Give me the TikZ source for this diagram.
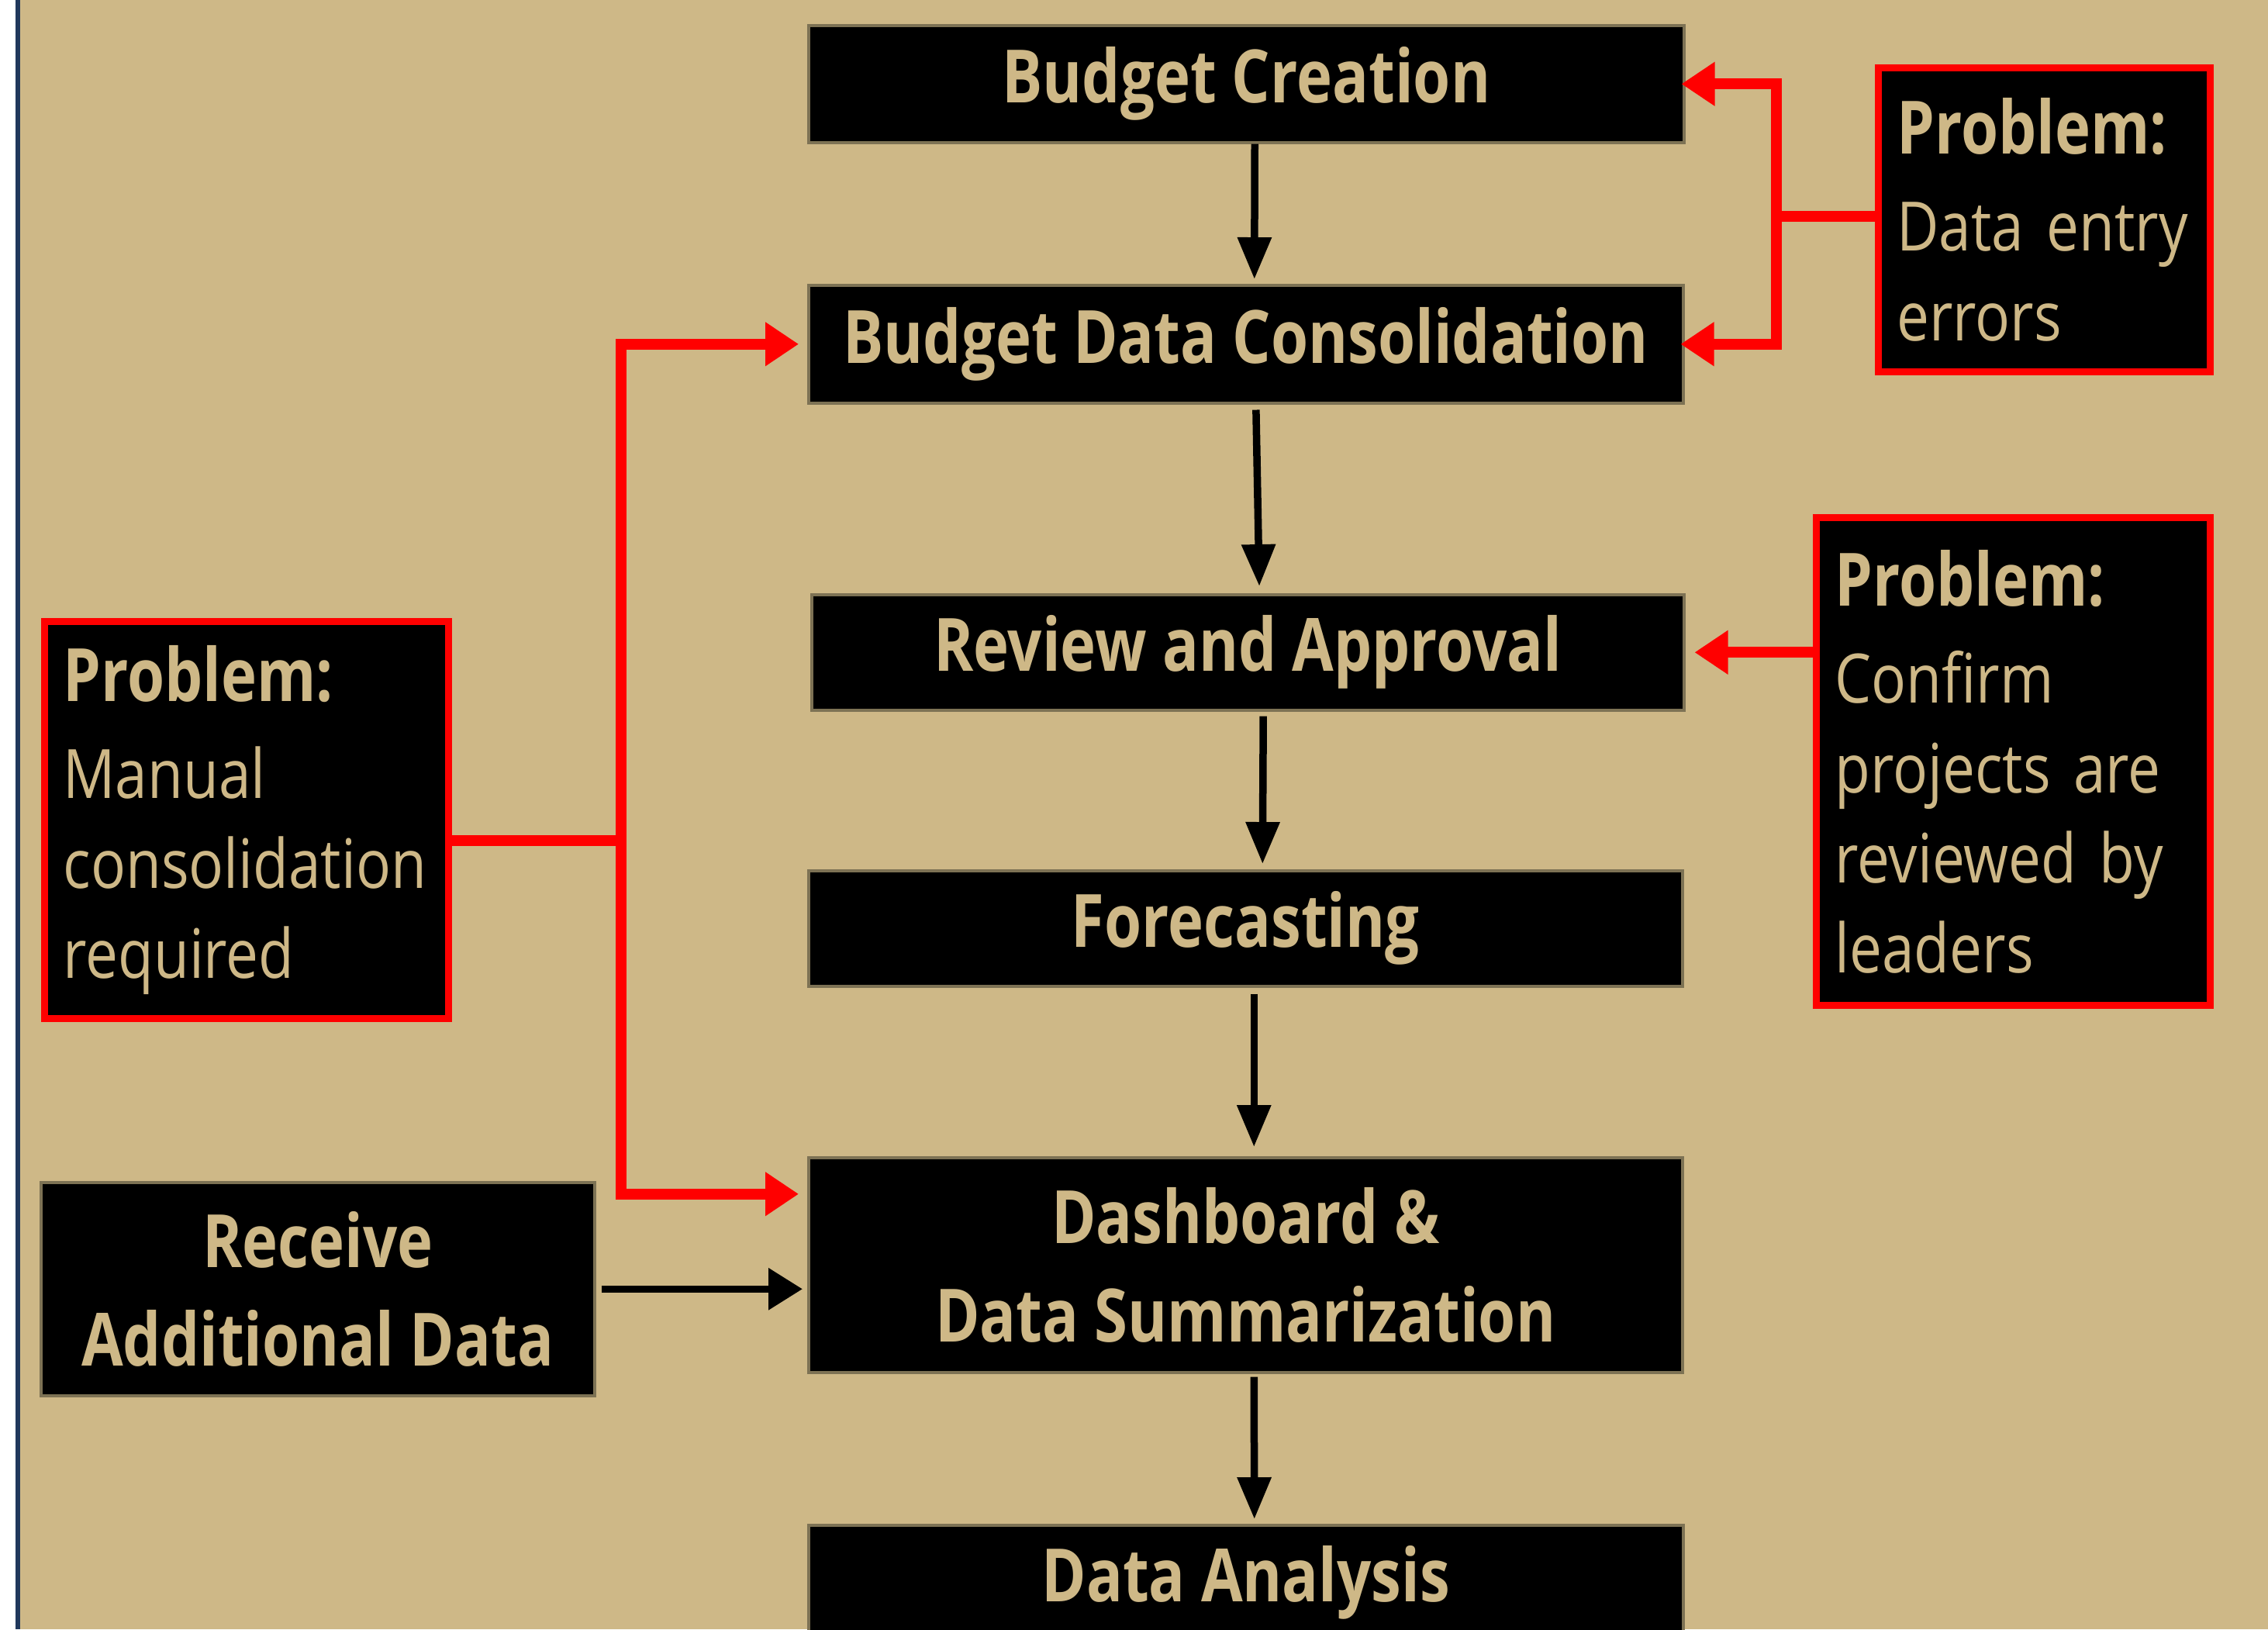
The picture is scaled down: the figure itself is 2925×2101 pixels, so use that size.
\documentclass[tikz,border=0pt]{standalone}
\usepackage{fontspec}
\setmainfont{Open Sans}[FakeStretch=0.82]
\newfontfamily\probfont{Open Sans}[FakeStretch=0.85,WordSpace=0.7]
\usetikzlibrary{arrows.meta}
\definecolor{tanbg}{RGB}{206,184,135}
\definecolor{navyline}{RGB}{32,56,92}
\definecolor{boxedge}{RGB}{125,114,84}
\definecolor{redc}{RGB}{255,0,0}
\begin{document}
\begin{tikzpicture}[x=0.1mm,y=-0.1mm,
  cbox/.style={fill=black, draw=boxedge, line width=0.35mm, inner sep=0pt,
    anchor=north west, align=center, text=tanbg,
    font=\fontsize{27}{36}\selectfont\bfseries},
  pbox/.style={fill=black, draw=redc, line width=0.9mm, inner xsep=2.4mm,
    inner ysep=0pt, anchor=north west, align=left, text=tanbg,
    font=\probfont\fontsize{25}{33}\selectfont},
  blkv/.style={draw=black, line width=0.95mm,
    -{Triangle[length=5.4mm,width=4.2mm]}},
  blkh/.style={draw=black, line width=0.95mm,
    -{Triangle[length=4.4mm,width=5.2mm]}},
  redln/.style={draw=redc, line width=1.4mm},
  redarr/.style={draw=redc, line width=1.4mm,
    -{Triangle[length=4.3mm,width=5.4mm]}}
]
\useasboundingbox (0,0) rectangle (2925,2101);
\clip (0,0) rectangle (2925,2101);
% background
\fill[white] (0,0) rectangle (2925,2101);
\fill[navyline] (20,0) rectangle (26,2101);
\fill[tanbg] (26,0) rectangle (2925,2101);

% main flow boxes
\node[cbox, minimum width=112.9mm, minimum height=15.1mm] (bc) at (1041,31) {Budget Creation};
\node[cbox, minimum width=112.8mm, minimum height=15.2mm] (bdc) at (1041,366) {Budget Data Consolidation};
\node[cbox, minimum width=112.5mm, minimum height=14.9mm] (rev) at (1045,765) {Review and Approval};
\node[cbox, minimum width=112.7mm, minimum height=14.9mm] (fc) at (1041,1121) {Forecasting};
\node[cbox, minimum width=112.7mm, minimum height=27.7mm] (dash) at (1041,1491) {Dashboard \&\\Data Summarization};
\node[cbox, minimum width=112.8mm, minimum height=14.8mm] (da) at (1041,1965) {Data Analysis};
\node[cbox, minimum width=71.4mm, minimum height=27.5mm] (rec) at (51,1523) {Receive\\Additional Data};

% problem boxes
\node[pbox, text width=38.0mm, minimum height=39.2mm] (p1) at (2418,83)
  {{\rmfamily\bfseries\fontsize{27}{33}\selectfont Problem:}\\[2.6pt]\mbox{Data entry}\\\mbox{errors}};
\node[pbox, text width=46.0mm, minimum height=62.9mm] (p2) at (2338,663)
  {{\rmfamily\bfseries\fontsize{27}{33}\selectfont Problem:}\\[2.6pt]\mbox{Confirm}\\\mbox{projects are}\\\mbox{reviewed by}\\\mbox{leaders}};
\node[pbox, text width=47.3mm, minimum height=51.2mm] (p3) at (53,797)
  {{\rmfamily\bfseries\fontsize{27}{33}\selectfont Problem:}\\[2.6pt]\mbox{Manual}\\\mbox{consolidation}\\\mbox{required}};

% black flow arrows
\draw[blkv, shorten >=0.6mm] ([xshift=1.1mm]bc.south) -- ([xshift=1.1mm]bdc.north);
\draw[blkv, shorten <=0.7mm, shorten >=0.9mm] ([xshift=1.3mm]bdc.south) -- ([xshift=1.5mm]rev.north);
\draw[blkv, shorten <=0.6mm, shorten >=0.7mm] ([xshift=2.0mm]rev.south) -- ([xshift=2.2mm]fc.north);
\draw[blkv, shorten <=0.8mm, shorten >=1.2mm] ([xshift=1.1mm]fc.south) -- ([xshift=1.1mm]dash.north);
\draw[blkv, shorten <=0.4mm, shorten >=0.6mm] ([xshift=1.1mm]dash.south) -- ([xshift=1.1mm]da.north);
\draw[blkh, shorten <=0.7mm, shorten >=0.6mm] (rec.east) -- (rec.east -| dash.west);

% red problem connectors (right top)
\path ([yshift=0.45mm]p1.west) ++(-12.7mm,0) coordinate (rj1);
\draw[redln] ([yshift=0.45mm]p1.west) -- (rj1);
\draw[redarr, shorten >=-0.5mm] (rj1) |- (bc.east);
\draw[redarr, shorten >=-0.5mm] (rj1) |- (bdc.east);

% red (right middle)
\draw[redarr, shorten >=1.2mm] (p2.west |- rev.east) -- (rev.east);

% red (left)
\coordinate (lj) at (801,1084);
\draw[redln] (p3.east |- lj) -- (lj);
\draw[redarr, shorten >=1.1mm] (lj) |- (bdc.west);
\draw[redarr, shorten >=1.1mm] (lj) |- ([yshift=9.15mm]dash.west);
\end{tikzpicture}
\end{document}
